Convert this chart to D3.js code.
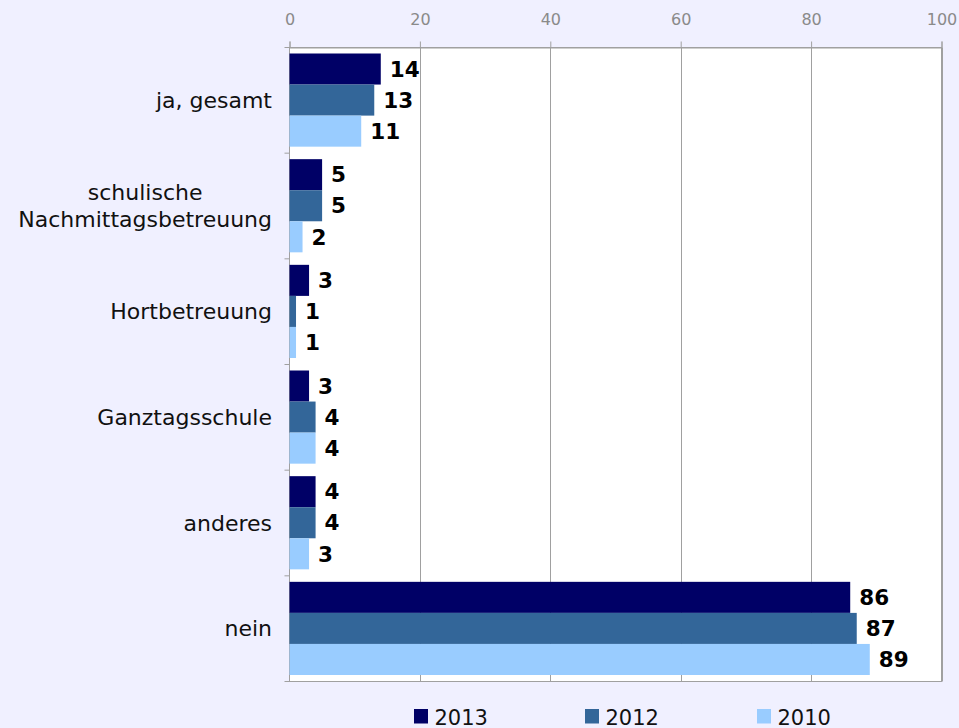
<!DOCTYPE html>
<html>
<head>
<meta charset="utf-8">
<script src="https://cdn.jsdelivr.net/npm/d3@7"></script>
<style>
  html, body { margin: 0; padding: 0; background: #F0F0FF; }
  svg { display: block; }
</style>
</head>
<body>
<svg id="chart" width="959" height="728"></svg>
<script>
const categories = ["ja, gesamt", "schulische\nNachmittagsbetreuung", "Hortbetreuung", "Ganztagsschule", "anderes", "nein"];
const seriesNames = ["2013", "2012", "2010"];
const values2013 = [14, 5, 3, 3, 4, 86];
const values2012 = [13, 5, 1, 4, 4, 87];
const values2010 = [11, 2, 1, 4, 3, 89];
const seriesColors = ["#000066", "#336699", "#99CCFF"];
const xTicks = [0, 20, 40, 60, 80, 100];

const seriesValues = [values2013, values2012, values2010];

(function () {
const svg = d3.select("#chart");
const pLeft = 289.5, pRight = 941.5, pTop = 47.5, pBottom = 681.5;

svg.append("rect").attr("x", 0).attr("y", 0).attr("width", 959).attr("height", 728).attr("fill", "#F0F0FF");

const x = d3.scaleLinear().domain([0, 100]).range([pLeft, pRight]);
const y = d3.scaleBand().domain(categories).range([pTop, pBottom]).padding(0);
const ys = d3.scaleBand().domain(seriesNames).range([6, y.bandwidth() - 6.5]).padding(0);

// plot area
svg.append("rect").attr("x", pLeft).attr("y", pTop).attr("width", pRight - pLeft).attr("height", pBottom - pTop)
  .attr("fill", "#FFFFFF").attr("stroke", "#A0A0A0").attr("stroke-width", 1);

// gridlines
svg.append("g").selectAll("line").data(xTicks.slice(1)).join("line")
  .attr("x1", d => Math.round(x(d)) + 0.5).attr("x2", d => Math.round(x(d)) + 0.5)
  .attr("y1", pTop).attr("y2", pBottom)
  .attr("stroke", "#A0A0A0").attr("stroke-width", 1);

// top axis
const xAxis = d3.axisTop(x).tickValues(xTicks).tickSize(6).tickPadding(17).tickFormat(d3.format("d"));
const gx = svg.append("g").attr("transform", `translate(0,${pTop})`).call(xAxis);
gx.select(".domain").attr("stroke", "#A0A0A0");
gx.selectAll(".tick line").attr("stroke", "#A0A0A0");
gx.selectAll(".tick text").attr("fill", "#8A8A8A").attr("font-family", "DejaVu Sans").attr("font-size", 16);

// left axis line + ticks at band boundaries
const boundaries = categories.map(c => y(c)).concat([pBottom]);
svg.append("g").selectAll("line").data(boundaries).join("line")
  .attr("x1", pLeft - 5).attr("x2", pLeft).attr("y1", d => d).attr("y2", d => d)
  .attr("stroke", "#A0A0A0");
svg.append("line").attr("x1", pLeft).attr("x2", pLeft).attr("y1", pTop).attr("y2", pBottom).attr("stroke", "#A0A0A0");

// bars
const groups = svg.append("g").selectAll("g").data(categories).join("g")
  .attr("transform", c => `translate(0,${y(c)})`);

seriesNames.forEach((s, si) => {
  groups.append("rect")
    .attr("x", pLeft)
    .attr("y", ys(s))
    .attr("width", (c, i) => x(seriesValues[si][i]) - x(0))
    .attr("height", ys.bandwidth())
    .attr("fill", seriesColors[si]);
  groups.append("text")
    .attr("x", (c, i) => x(seriesValues[si][i]) + 9)
    .attr("y", ys(s) + ys.bandwidth() / 2)
    .attr("dy", "0.36em")
    .attr("font-family", "DejaVu Sans")
    .attr("font-weight", "bold")
    .attr("font-size", 21.5)
    .attr("fill", "#000000")
    .text((c, i) => seriesValues[si][i]);
});

// category labels
categories.forEach(c => {
  const lines = c.split("\n");
  const cy = y(c) + y.bandwidth() / 2;
  const lh = 27;
  const t = svg.append("text")
    .attr("font-family", "DejaVu Sans").attr("font-size", 22).attr("fill", "#111111");
  if (lines.length === 1) {
    t.attr("x", 272).attr("y", cy).attr("dy", "0.35em").attr("text-anchor", "end").text(c);
  } else {
    const tmp = svg.append("text").attr("font-family", "DejaVu Sans").attr("font-size", 22);
    let maxW = 0;
    lines.forEach(l => { tmp.text(l); maxW = Math.max(maxW, tmp.node().getComputedTextLength()); });
    tmp.remove();
    const cx = 272 - maxW / 2;
    lines.forEach((l, i) => {
      t.append("tspan").attr("x", cx).attr("y", cy + (i - (lines.length - 1) / 2) * lh)
        .attr("dy", "0.35em").attr("text-anchor", "middle").text(l);
    });
  }
});

// legend
const legendX = [414, 585, 757];
const legend = svg.append("g").selectAll("g").data(seriesNames).join("g")
  .attr("transform", (d, i) => `translate(${legendX[i]},709)`);
legend.append("rect").attr("x", 0).attr("y", 0).attr("width", 14).attr("height", 14.5)
  .attr("fill", (d, i) => seriesColors[i]);
legend.append("text").attr("x", 20.5).attr("y", 15.5)
  .attr("font-family", "DejaVu Sans").attr("font-size", 21).attr("fill", "#111111")
  .text(d => d);
})();
</script>
</body>
</html>
